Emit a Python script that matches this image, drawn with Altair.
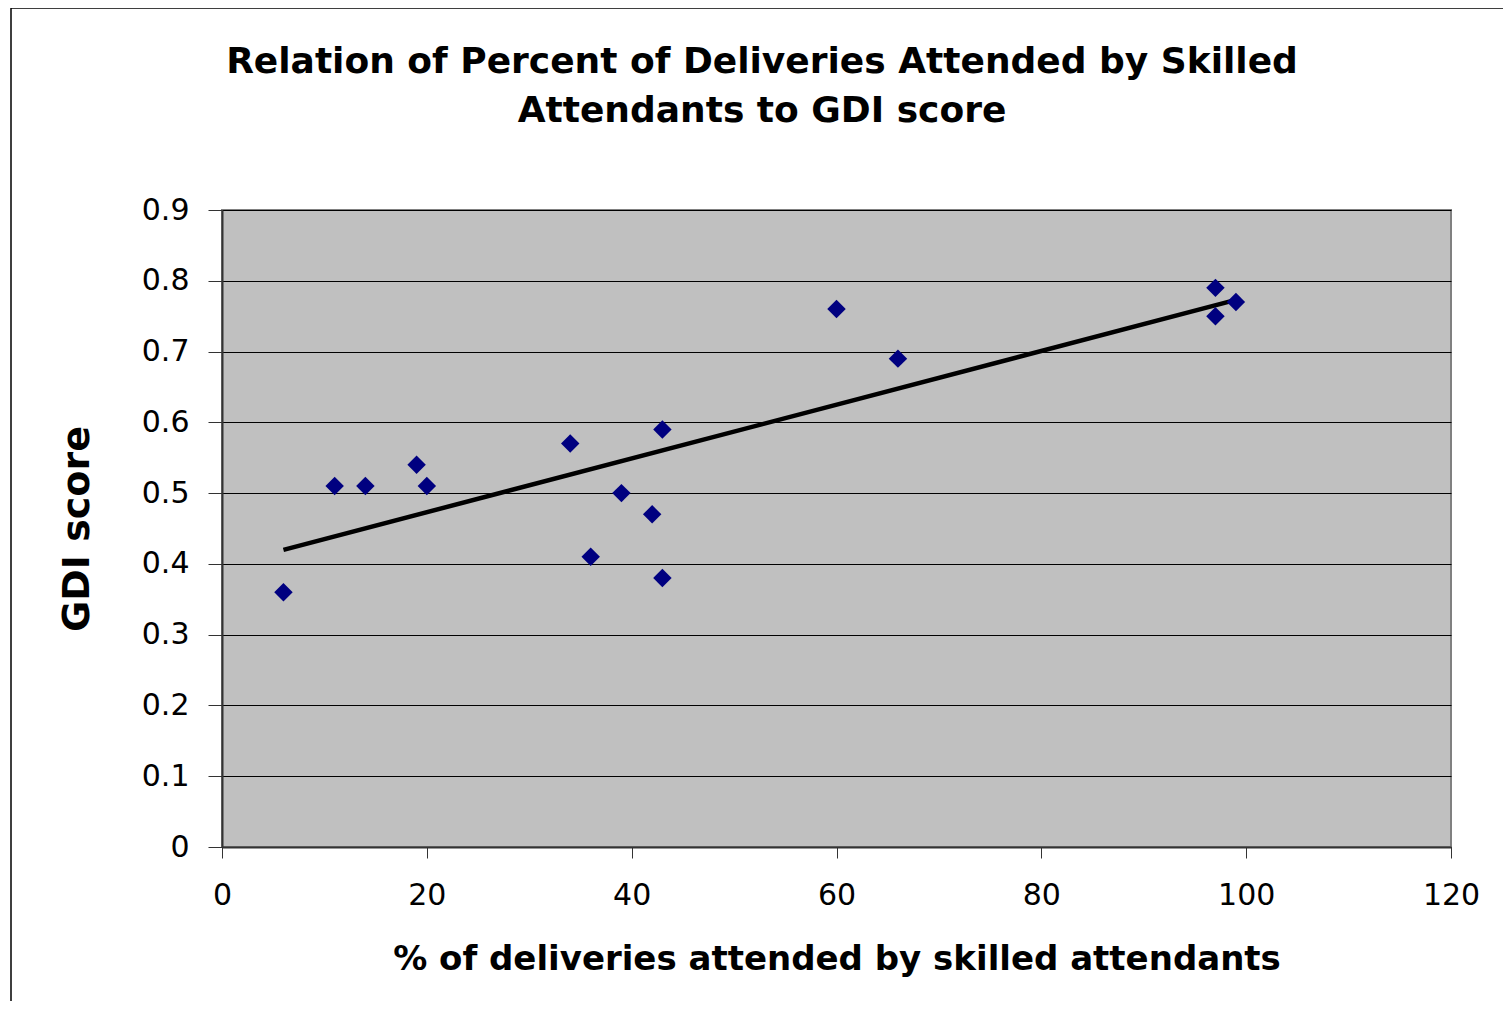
import altair as alt
import pandas as pd

# Data
pct_skilled = [6, 11, 14, 19, 20, 34, 36, 39, 42, 43, 43, 60, 66, 97, 97, 99]
gdi_score = [0.36, 0.51, 0.51, 0.54, 0.51, 0.57, 0.41, 0.50, 0.47, 0.59, 0.38,
             0.76, 0.69, 0.79, 0.75, 0.77]
x_ticks = [0, 20, 40, 60, 80, 100, 120]
y_ticks = [0, 0.1, 0.2, 0.3, 0.4, 0.5, 0.6, 0.7, 0.8, 0.9]
title_lines = ["Relation of Percent of Deliveries Attended by Skilled",
               "Attendants to GDI score"]

df = pd.DataFrame({"x": pct_skilled, "y": gdi_score})
one = pd.DataFrame({"k": [0]})

FONT = "DejaVu Sans"

x_enc = alt.X(
    "x:Q",
    scale=alt.Scale(domain=[0, 120], nice=False, zero=True),
    axis=alt.Axis(
        values=x_ticks, title="% of deliveries attended by skilled attendants",
        grid=False, tickSize=11, labelPadding=22, titlePadding=32,
        labelFontSize=30, titleFontSize=34, labelFont=FONT, titleFont=FONT,
        titleFontWeight="bold", labelColor="black", titleColor="black",
        domainColor="#333333", tickColor="#333333", domainWidth=2,
        labelFlush=False,
    ),
)
y_enc = alt.Y(
    "y:Q",
    scale=alt.Scale(domain=[0, 0.9], nice=False),
    axis=alt.Axis(
        values=y_ticks, title="GDI score", grid=True, gridColor="black",
        gridWidth=1, gridOpacity=1, tickSize=14, labelPadding=19,
        titlePadding=45, labelFontSize=30, titleFontSize=38, labelFont=FONT,
        titleFont=FONT, titleFontWeight="bold", labelColor="black",
        titleColor="black", domainColor="#333333", tickColor="#333333",
        domainWidth=2, format=".1~f", labelFlush=False,
    ),
)

points = alt.Chart(df).mark_point(
    shape="diamond", filled=True, color="#000080", size=340, opacity=1
).encode(x=x_enc, y=y_enc)

trend = alt.Chart(df).transform_regression("x", "y").mark_line(
    color="black", strokeWidth=4.5
).encode(x="x:Q", y="y:Q")

frame = alt.Chart(one).mark_rect(
    fill="transparent", stroke="black", strokeWidth=1.5, clip=False
).encode(
    x=alt.value(-211), x2=alt.value(1320),
    y=alt.value(-202), y2=alt.value(820),
)

title1 = alt.Chart(one).mark_text(
    text=title_lines[0], font=FONT, fontSize=36, fontWeight="bold",
    color="black", align="center", baseline="alphabetic",
).encode(x=alt.value(540), y=alt.value(-137))

title2 = alt.Chart(one).mark_text(
    text=title_lines[1], font=FONT, fontSize=36, fontWeight="bold",
    color="black", align="center", baseline="alphabetic",
).encode(x=alt.value(540), y=alt.value(-88))

chart = alt.layer(frame, trend, points, title1, title2).properties(
    width=1229,
    height=637,
    autosize=alt.AutoSizeParams(type="none"),
    padding={"left": 214, "top": 202, "right": 52, "bottom": 154},
    background="white",
).configure_view(
    fill="#C0C0C0", stroke="#808080", strokeWidth=2
)

chart.save("out.html", embed_options={"renderer": "svg", "actions": False})
